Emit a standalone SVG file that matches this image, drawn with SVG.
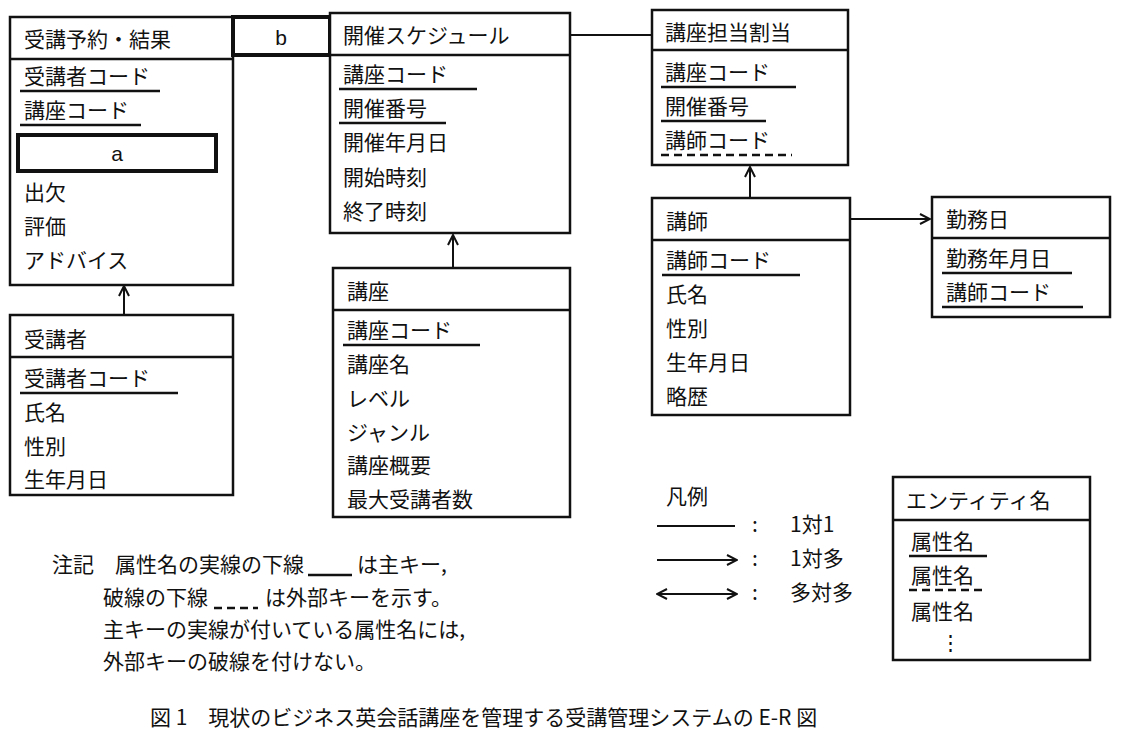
<svg xmlns="http://www.w3.org/2000/svg" width="1138" height="740" viewBox="0 0 1138 740">
<style>
text{font-family:"Noto Sans CJK JP","Liberation Sans",sans-serif;font-size:21px;fill:#111}
.b{fill:#fff;stroke:#111;stroke-width:2.5}
.t{fill:#fff;stroke:#111;stroke-width:4}
.u{stroke:#111;stroke-width:2.5}
.d{stroke:#111;stroke-width:2.5;stroke-dasharray:8 5}
.c{stroke:#111;stroke-width:2;fill:none}
.l{font-family:"Liberation Sans",sans-serif}
</style>
<defs><marker id="ar" viewBox="0 0 12 12" refX="11" refY="6" markerWidth="12" markerHeight="12" markerUnits="userSpaceOnUse" orient="auto-start-reverse"><path d="M1,1 L11,6 L1,11" fill="none" stroke="#111" stroke-width="2"/></marker></defs>
<rect width="1138" height="740" fill="#fff"/>
<g id="connectors">
<line class="c" x1="570" y1="35" x2="652" y2="35"/>
<line class="c" x1="124" y1="315" x2="124" y2="286" marker-end="url(#ar)"/>
<line class="c" x1="453" y1="268" x2="453" y2="235" marker-end="url(#ar)"/>
<line class="c" x1="750" y1="198" x2="750" y2="167" marker-end="url(#ar)"/>
<line class="c" x1="850" y1="219" x2="930" y2="219" marker-end="url(#ar)"/>
</g>
<g id="yoyaku">
<rect class="b" x="10" y="17" width="223" height="268"/><line class="u" x1="10" y1="59" x2="233" y2="59"/>
<text x="24" y="47">受講予約・結果</text>
<text x="24" y="84">受講者コード</text><line class="u" x1="20" y1="91" x2="160" y2="91"/>
<text x="24" y="118">講座コード</text><line class="u" x1="20" y1="125" x2="141" y2="125"/>
<rect class="t" x="18" y="135" width="198" height="36"/><text class="l" x="117" y="161" text-anchor="middle">a</text>
<text x="24" y="200">出欠</text><text x="24" y="234">評価</text><text x="24" y="268">アドバイス</text>
</g>
<g id="b"><rect class="t" x="233" y="17" width="97" height="38"/><text class="l" x="281" y="45" text-anchor="middle">b</text></g>
<g id="schedule">
<rect class="b" x="330" y="13" width="240" height="220"/><line class="u" x1="330" y1="55" x2="570" y2="55"/>
<text x="343" y="43">開催スケジュール</text>
<text x="343" y="82">講座コード</text><line class="u" x1="339" y1="89" x2="477" y2="89"/>
<text x="343" y="116">開催番号</text><line class="u" x1="339" y1="123" x2="446" y2="123"/>
<text x="343" y="150">開催年月日</text><text x="343" y="185">開始時刻</text><text x="343" y="219">終了時刻</text>
</g>
<g id="koza">
<rect class="b" x="333" y="268" width="237" height="249"/><line class="u" x1="333" y1="310" x2="570" y2="310"/>
<text x="347" y="299">講座</text>
<text x="347" y="338">講座コード</text><line class="u" x1="343" y1="345" x2="480" y2="345"/>
<text x="347" y="372">講座名</text><text x="347" y="406">レベル</text><text x="347" y="440">ジャンル</text><text x="347" y="473">講座概要</text><text x="347" y="507">最大受講者数</text>
</g>
<g id="jukosha">
<rect class="b" x="10" y="315" width="223" height="180"/><line class="u" x1="10" y1="357" x2="233" y2="357"/>
<text x="24" y="347">受講者</text>
<text x="24" y="386">受講者コード</text><line class="u" x1="20" y1="393" x2="178" y2="393"/>
<text x="24" y="420">氏名</text><text x="24" y="454">性別</text><text x="24" y="487">生年月日</text>
</g>
<g id="tanto">
<rect class="b" x="652" y="10" width="196" height="155"/><line class="u" x1="652" y1="50" x2="848" y2="50"/>
<text x="665" y="40">講座担当割当</text>
<text x="665" y="80">講座コード</text><line class="u" x1="661" y1="87" x2="796" y2="87"/>
<text x="665" y="114">開催番号</text><line class="u" x1="661" y1="121" x2="766" y2="121"/>
<text x="665" y="148">講師コード</text><line class="d" x1="661" y1="155" x2="792" y2="155"/>
</g>
<g id="koshi">
<rect class="b" x="652" y="198" width="198" height="217"/><line class="u" x1="652" y1="240" x2="850" y2="240"/>
<text x="666" y="229">講師</text>
<text x="666" y="268">講師コード</text><line class="u" x1="662" y1="275" x2="800" y2="275"/>
<text x="666" y="302">氏名</text><text x="666" y="336">性別</text><text x="666" y="370">生年月日</text><text x="666" y="404">略歴</text>
</g>
<g id="kinmu">
<rect class="b" x="932" y="197" width="178" height="120"/><line class="u" x1="932" y1="238" x2="1110" y2="238"/>
<text x="946" y="227">勤務日</text>
<text x="946" y="266">勤務年月日</text><line class="u" x1="942" y1="273" x2="1072" y2="273"/>
<text x="946" y="300">講師コード</text><line class="u" x1="942" y1="307" x2="1083" y2="307"/>
</g>
<g id="legend">
<text x="666" y="504">凡例</text>
<line class="c" x1="657" y1="526" x2="735" y2="526"/><text x="752" y="532">:</text><text x="790" y="532">1対1</text>
<line class="c" x1="657" y1="560" x2="737" y2="560" marker-end="url(#ar)"/><text x="752" y="566">:</text><text x="790" y="566">1対多</text>
<line class="c" x1="657" y1="594" x2="737" y2="594" marker-start="url(#ar)" marker-end="url(#ar)"/><text x="752" y="600">:</text><text x="790" y="600">多対多</text>
<rect class="b" x="893" y="477" width="197" height="183"/><line class="u" x1="893" y1="520" x2="1090" y2="520"/>
<text x="906" y="508">エンティティ名</text>
<text x="911" y="549">属性名</text><line class="u" x1="909" y1="556" x2="987" y2="556"/>
<text x="911" y="583">属性名</text><line class="d" x1="909" y1="590" x2="987" y2="590"/>
<text x="911" y="619">属性名</text><text x="940" y="650">⋮</text>
</g>
<g id="note">
<text x="52" y="572">注記　属性名の実線の下線</text><line class="u" x1="308" y1="575" x2="352" y2="575"/><text x="357" y="572">は主キー,</text>
<text x="103" y="605">破線の下線</text><line class="d" x1="214" y1="608" x2="258" y2="608"/><text x="265" y="605">は外部キーを示す。</text>
<text x="103" y="637">主キーの実線が付いている属性名には,</text>
<text x="103" y="669">外部キーの破線を付けない。</text>
</g>
<text x="150" y="725">図 1　現状のビジネス英会話講座を管理する受講管理システムの E-R 図</text>
</svg>
